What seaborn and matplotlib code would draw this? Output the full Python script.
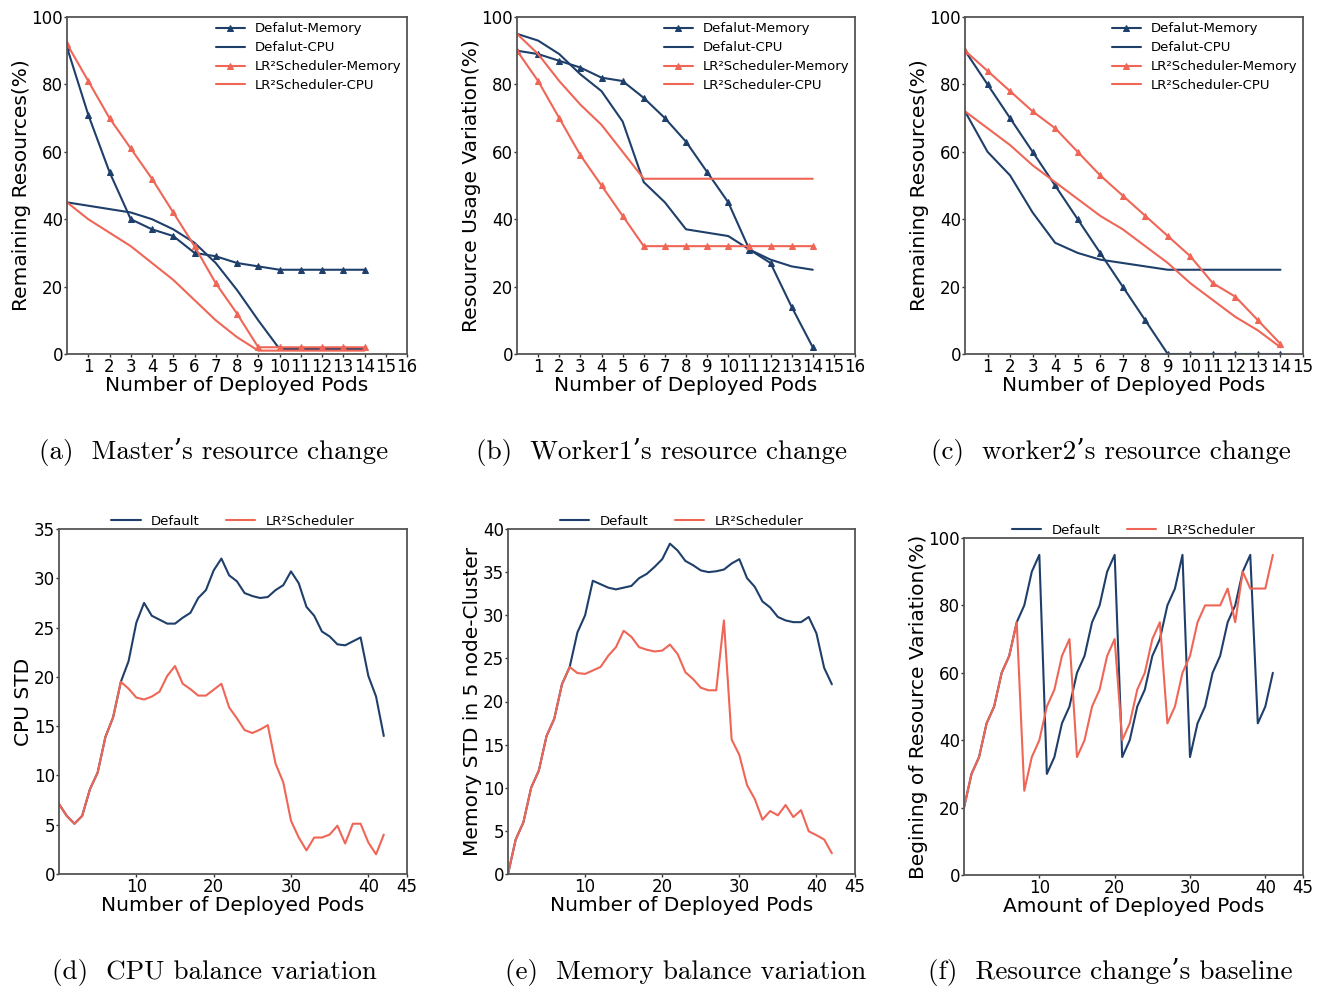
import matplotlib
matplotlib.use("Agg")
import matplotlib.pyplot as plt
import seaborn as sns
import numpy as np

sns.set_style("ticks")
plt.rcParams['font.family'] = ['DejaVu Sans']
plt.rcParams['mathtext.fontset'] = 'dejavusans'
plt.rcParams['text.color'] = 'black'
plt.rcParams['axes.labelcolor'] = 'black'
plt.rcParams['xtick.color'] = 'black'
plt.rcParams['ytick.color'] = 'black'

BLUE = '#1f3f6b'
RED = '#ef6657'

# ---------------- data ----------------
pods_a = list(range(15))
a_def_mem = [91, 71, 54, 40, 37, 35, 30, 29, 27, 26, 25, 25, 25, 25, 25]
a_def_cpu = [45, 44, 43, 42, 40, 37, 33, 27, 19, 10, 1.5, 1.5, 1.5, 1.5, 1.5]
a_lr_mem = [92, 81, 70, 61, 52, 42, 32, 21, 12, 2, 2, 2, 2, 2, 2]
a_lr_cpu = [45, 40, 36, 32, 27, 22, 16, 10, 5, 1, 1, 1, 1, 1, 1]

pods_b = list(range(15))
b_def_mem = [90, 89, 87, 85, 82, 81, 76, 70, 63, 54, 45, 31, 27, 14, 2]
b_def_cpu = [95, 93, 89, 83, 78, 69, 51, 45, 37, 36, 35, 31, 28, 26, 25]
b_lr_mem = [90, 81, 70, 59, 50, 41, 32, 32, 32, 32, 32, 32, 32, 32, 32]
b_lr_cpu = [95, 89, 81, 74, 68, 60, 52, 52, 52, 52, 52, 52, 52, 52, 52]

pods_c = list(range(15))
c_def_mem = [90, 80, 70, 60, 50, 40, 30, 20, 10, 0, 0, 0, 0, 0, 0]
c_def_cpu = [72, 60, 53, 42, 33, 30, 28, 27, 26, 25, 25, 25, 25, 25, 25]
c_lr_mem = [90, 84, 78, 72, 67, 60, 53, 47, 41, 35, 29, 21, 17, 10, 3]
c_lr_cpu = [72, 67, 62, 56, 51, 46, 41, 37, 32, 27, 21, 16, 11, 7, 2]

pods_d = list(range(43))
d_default = [7.1, 5.9, 5.1, 5.9, 8.6, 10.3, 13.9, 15.9, 19.5, 21.6, 25.5, 27.5, 26.2,
             25.8, 25.4, 25.4, 26.0, 26.5, 28.0, 28.8, 30.8, 32.0, 30.3, 29.7, 28.5,
             28.2, 28.0, 28.1, 28.8, 29.3, 30.7, 29.5, 27.1, 26.2, 24.6, 24.1, 23.3,
             23.2, 23.6, 24.0, 20.1, 18.0, 14.0]
d_lr = [7.1, 5.9, 5.1, 5.9, 8.6, 10.3, 13.9, 15.9, 19.5, 18.8, 17.9, 17.7, 18.0,
        18.5, 20.1, 21.1, 19.3, 18.75, 18.1, 18.1, 18.7, 19.3, 16.9, 15.8, 14.6,
        14.3, 14.65, 15.1, 11.2, 9.3, 5.4, 3.7, 2.4, 3.7, 3.7, 4.0, 4.9, 3.1, 5.1,
        5.1, 3.2, 2.0, 4.0]

pods_e = list(range(43))
e_default = [0, 4.0, 6.0, 10.0, 12.0, 16.0, 18.0, 22.0, 24.0, 28.0, 30.0, 34.0, 33.6,
             33.2, 33.0, 33.2, 33.4, 34.3, 34.8, 35.6, 36.5, 38.3, 37.5, 36.3, 35.8,
             35.2, 35.0, 35.1, 35.3, 36.0, 36.5, 34.3, 33.3, 31.6, 30.9, 29.8, 29.4,
             29.2, 29.2, 29.8, 27.9, 23.9, 22.0]
e_lr = [0, 4.0, 6.0, 10.0, 12.0, 16.0, 18.0, 22.0, 24.0, 23.3, 23.2, 23.6, 24.0,
        25.3, 26.3, 28.2, 27.5, 26.3, 26.0, 25.8, 25.9, 26.6, 25.5, 23.4, 22.6,
        21.6, 21.3, 21.3, 29.4, 15.6, 13.8, 10.3, 8.7, 6.3, 7.3, 6.8, 8.0, 6.6,
        7.4, 4.95, 4.5, 4.0, 2.4]

pods_f = list(range(42))
f_default = [20, 30, 35, 45, 50, 60, 65, 75, 80, 90, 95, 30, 35, 45, 50, 60, 65, 75,
             80, 90, 95, 35, 40, 50, 55, 65, 70, 80, 85, 95, 35, 45, 50, 60, 65, 75,
             80, 90, 95, 45, 50, 60]
f_lr = [20, 30, 35, 45, 50, 60, 65, 75, 25, 35, 40, 50, 55, 65, 70, 35, 40, 50, 55,
        65, 70, 40, 45, 55, 60, 70, 75, 45, 50, 60, 65, 75, 80, 80, 80, 85, 75, 90,
        85, 85, 85, 95]

top_labels = ['Defalut-Memory', 'Defalut-CPU', 'LR\u00b2Scheduler-Memory', 'LR\u00b2Scheduler-CPU']
bottom_labels = ['Default', 'LR\u00b2Scheduler']
captions = ["(a)  Master\u2019s resource change", "(b)  Worker1\u2019s resource change",
            "(c)  worker2\u2019s resource change", "(d)  CPU balance variation",
            "(e)  Memory balance variation", "(f)  Resource change\u2019s baseline"]

# ---------------- layout ----------------
W, H = 1321, 988
fig = plt.figure(figsize=(W / 100, H / 100), dpi=100)


def add_ax(l, t, r, b):
    return fig.add_axes([l / W, 1 - b / H, (r - l) / W, (b - t) / H])


def style_ax(ax):
    for s in ax.spines.values():
        s.set_color('#555555')
        s.set_linewidth(1.3)
        s.set_visible(True)
    ax.tick_params(axis='both', labelsize=12, length=2.2, width=1, pad=0.6,
                   color='#333333', direction='out')


def top_panel(ax, x, mem_d, cpu_d, mem_l, cpu_l, xmax, ylabel):
    sns.lineplot(x=x, y=mem_d, ax=ax, color=BLUE, marker='^', markersize=5,
                 markeredgecolor=BLUE, linewidth=1.5, label=top_labels[0])
    sns.lineplot(x=x, y=cpu_d, ax=ax, color=BLUE, linewidth=1.5, label=top_labels[1])
    sns.lineplot(x=x, y=mem_l, ax=ax, color=RED, marker='^', markersize=5,
                 markeredgecolor=RED, linewidth=1.5, label=top_labels[2])
    sns.lineplot(x=x, y=cpu_l, ax=ax, color=RED, linewidth=1.5, label=top_labels[3])
    ax.set_xlim(0, xmax)
    ax.set_ylim(0, 100)
    ax.set_xticks(range(1, xmax + 1))
    ax.set_yticks(range(0, 101, 20))
    ax.set_xlabel('Number of Deployed Pods', fontsize=14.5, labelpad=0)
    ax.set_ylabel(ylabel, fontsize=14.5, labelpad=0.5)
    ax.legend(loc='upper right', frameon=False, fontsize=9.5, handlelength=2.2,
              labelspacing=0.45, borderaxespad=0.1, borderpad=0.3)
    style_ax(ax)


def bottom_panel(ax, x, d, lr, ymax, ystep, xlabel, ylabel):
    sns.lineplot(x=x, y=d, ax=ax, color=BLUE, linewidth=1.5, label=bottom_labels[0])
    sns.lineplot(x=x, y=lr, ax=ax, color=RED, linewidth=1.5, label=bottom_labels[1])
    ax.set_xlim(0, 45)
    ax.set_ylim(0, ymax)
    ax.set_xticks([10, 20, 30, 40, 45])
    ax.set_yticks(np.arange(0, ymax + 0.1, ystep))
    ax.set_xlabel(xlabel, fontsize=14.5, labelpad=0)
    ax.set_ylabel(ylabel, fontsize=14.5, labelpad=0.5)
    ax.legend(loc='lower center', bbox_to_anchor=(0.5, 0.995), ncol=2, frameon=False,
              fontsize=9.5, handlelength=2.2, columnspacing=2.0, borderaxespad=0,
              borderpad=0.2)
    style_ax(ax)


ax_a = add_ax(67, 17, 407, 354)
top_panel(ax_a, pods_a, a_def_mem, a_def_cpu, a_lr_mem, a_lr_cpu, 16, 'Remaining Resources(%)')
ax_b = add_ax(517, 17, 855, 354)
top_panel(ax_b, pods_b, b_def_mem, b_def_cpu, b_lr_mem, b_lr_cpu, 16, 'Resource Usage Variation(%)')
ax_c = add_ax(965, 17, 1303, 354)
top_panel(ax_c, pods_c, c_def_mem, c_def_cpu, c_lr_mem, c_lr_cpu, 15, 'Remaining Resources(%)')

ax_d = add_ax(59, 529, 407, 874)
bottom_panel(ax_d, pods_d, d_default, d_lr, 35, 5, 'Number of Deployed Pods', 'CPU STD')
ax_e = add_ax(508, 529, 855, 874)
bottom_panel(ax_e, pods_e, e_default, e_lr, 40, 5, 'Number of Deployed Pods',
             'Memory STD in 5 node-Cluster')
ax_f = add_ax(964, 538, 1303, 875)
bottom_panel(ax_f, pods_f, f_default, f_lr, 100, 20, 'Amount of Deployed Pods',
             'Begining of Resource Variation(%)')

cap_pos = [(214, 452), (662, 452), (1111, 452), (214, 972), (686, 972), (1110, 972)]
for (cx, cy), txt in zip(cap_pos, captions):
    fig.text(cx / W, 1 - cy / H, txt, ha='center', va='center', fontsize=19.5,
             family=['cmr10', 'DejaVu Serif'])

fig.savefig('out.png', dpi=100)
